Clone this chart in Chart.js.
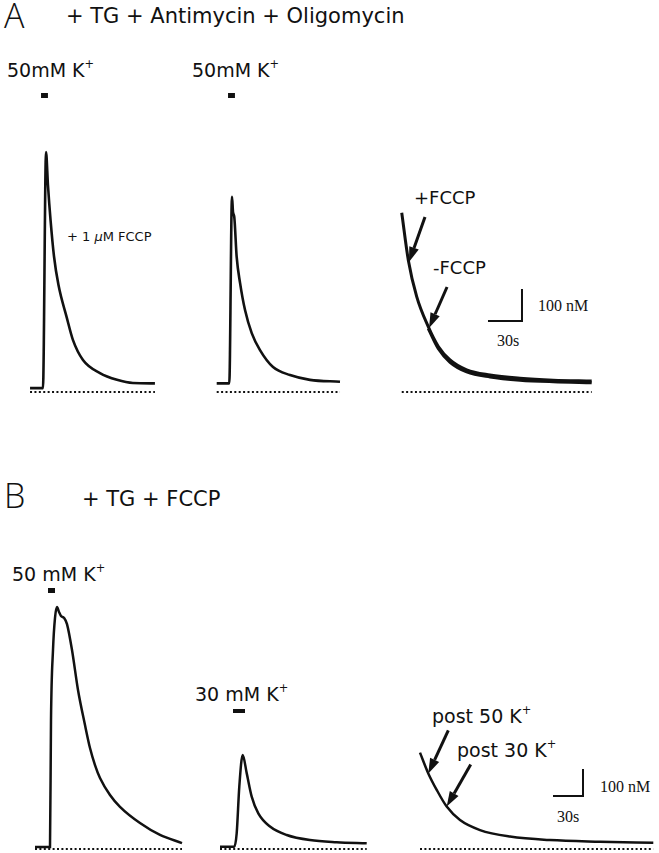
<!DOCTYPE html>
<html>
<head>
<meta charset="utf-8">
<script src="https://cdn.jsdelivr.net/npm/chart.js@4.4.0/dist/chart.umd.min.js"></script>
<style>
    html, body { margin: 0; padding: 0; background: #fff; }
    body { width: 659px; height: 853px; position: relative; overflow: hidden;
           font-family: "DejaVu Sans", sans-serif; color: #111; }
    .lbl { position: absolute; white-space: nowrap; line-height: 1; }
    .serif { font-family: "Liberation Serif", serif; }
    .big { font-family: "Open Sans", "DejaVu Sans", sans-serif; font-weight: 300; }
    canvas { position: absolute; }
    sup { font-size: 0.6em; vertical-align: 0.75em; line-height: 0; }
</style>
</head>
<body>
<div class="lbl big" style="left:4px;top:-2px;font-size:34px;">A</div>
<div class="lbl" style="left:66px;top:6px;font-size:21px;">+ TG + Antimycin + Oligomycin</div>
<div class="lbl" style="left:7px;top:61px;font-size:19px;">50mM K<sup>+</sup></div>
<div class="lbl" style="left:192px;top:61px;font-size:19px;">50mM K<sup>+</sup></div>
<div class="lbl" style="left:67px;top:230px;font-size:13px;">+ 1 <i>μ</i>M FCCP</div>
<div class="lbl" style="left:414px;top:189px;font-size:18px;">+FCCP</div>
<div class="lbl" style="left:433px;top:259px;font-size:18px;">-FCCP</div>
<div class="lbl serif" style="left:538px;top:298px;font-size:16px;">100 nM</div>
<div class="lbl serif" style="left:497px;top:333px;font-size:16px;">30s</div>

<div class="lbl big" style="left:4px;top:478px;font-size:34px;">B</div>
<div class="lbl" style="left:82px;top:489px;font-size:21px;">+ TG + FCCP</div>
<div class="lbl" style="left:12px;top:565px;font-size:19px;">50 mM K<sup>+</sup></div>
<div class="lbl" style="left:195px;top:685px;font-size:19px;">30 mM K<sup>+</sup></div>
<div class="lbl" style="left:432px;top:707px;font-size:19px;">post 50 K<sup>+</sup></div>
<div class="lbl" style="left:457px;top:741px;font-size:19px;">post 30 K<sup>+</sup></div>
<div class="lbl serif" style="left:600px;top:779px;font-size:16px;">100 nM</div>
<div class="lbl serif" style="left:557px;top:809px;font-size:16px;">30s</div>

<canvas id="a1"></canvas>
<canvas id="a2"></canvas>
<canvas id="a3"></canvas>
<canvas id="b1"></canvas>
<canvas id="b2"></canvas>
<canvas id="b3"></canvas>

<script>
// [Ca2+] traces: time in s from the start of each recording, [Ca2+] in nM above the dotted zero line

// A: + TG + Antimycin + Oligomycin
const a1Time = [1.8, 13.2, 15.9, 17.6, 19.9, 22.9, 26.9, 34.1, 39.7, 48.5, 63.5, 78.5, 92.6, 112];
const a1Ca   = [12, 12, 750, 647, 537, 425, 334, 234, 162, 100, 59, 38, 28, 27];
const a1Stim = [11.5, 17.6];

const a2Time = [1.5, 12.6, 15.0, 15.9, 17.0, 19.1, 22.1, 26.5, 32.4, 39.7, 51.2, 66.2, 83.8, 110.3];
const a2Ca   = [27, 27, 610, 562, 547, 423, 341, 256, 184, 131, 78, 53, 38, 32];
const a2Stim = [11.5, 17.6];

// with FCCP, then the trace after FCCP was washed out
const a3Time     = [3.3, 9.1, 16.5, 26.7, 35.6, 45.9, 60.6, 81.2, 107.6, 137.0, 170.9];
const a3Ca       = [560, 412, 298, 204, 142, 100, 69, 53, 43, 37, 34];
const a3WashTime = [26.7, 35.6, 45.9, 60.6, 81.2, 107.6, 137.0, 170.9];
const a3WashCa   = [198, 135, 93, 63, 47, 37, 32, 29];

// B: + TG + FCCP
const b1Time = [2, 17, 18, 20, 22, 24, 26, 28, 31, 34, 39, 45, 52, 57, 62, 67, 77, 87, 107, 127, 149];
const b1Ca   = [7, 7, 478, 737, 856, 896, 878, 863, 856, 833, 737, 589, 459, 374, 311, 263, 200, 156, 96, 52, 22];
const b1Stim = [15, 22];

const b2Time = [2, 16.3, 18.7, 21.3, 24.7, 28.7, 33.7, 40.3, 52, 68.7, 92, 118.7, 148.7];
const b2Ca   = [8, 8, 59, 231, 348, 281, 194, 132, 83, 52, 33, 25, 21];
const b2Stim = [15, 27];

const b3Time = [3, 11.3, 19.7, 29.7, 43, 63, 93, 133, 183, 236.3];
const b3Ca   = [357, 280, 219, 157, 107, 70, 46, 33, 27, 23];

const INK = '#111';

// page layout of the two rows (px)
const rowA = { pxPerSec: 34 / 30, pxPerNM: 32 / 100, zeroY: 392, top: 88, bottom: 410 };
const rowB = { pxPerSec: 30 / 30, pxPerNM: 27 / 100, zeroY: 849, top: 580, bottom: 860 };

function toPoints(times, values) {
    return times.map((t, i) => ({ x: t, y: values[i] }));
}

function traceSet(times, values, width) {
    return {
        data: toPoints(times, values),
        borderColor: INK,
        borderWidth: width,
        cubicInterpolationMode: 'monotone',
        pointRadius: 0
    };
}

function zeroSet(times) {
    return {
        data: [{ x: times[0], y: 0 }, { x: times[times.length - 1], y: 0 }],
        borderColor: INK,
        borderWidth: 2,
        borderDash: [2, 2.4],
        pointRadius: 0
    };
}

const marksPlugin = {
    id: 'marks',
    afterDatasetsDraw(chart, args, opts) {
        const { ctx } = chart;
        const x = chart.scales.x, y = chart.scales.y;
        ctx.save();
        ctx.fillStyle = INK;
        ctx.strokeStyle = INK;

        (opts.stim || []).forEach((s) => {
            const x0 = x.getPixelForValue(s.from);
            const x1 = x.getPixelForValue(s.to);
            ctx.fillRect(x0, s.top, x1 - x0, s.h);
        });

        if (opts.scaleBar) {
            const b = opts.scaleBar;
            const cx = x.getPixelForValue(b.t), cy = y.getPixelForValue(b.ca);
            const lx = x.getPixelForValue(b.t - 30), ty = y.getPixelForValue(b.ca + 100);
            ctx.lineWidth = 2;
            ctx.beginPath();
            ctx.moveTo(lx, cy);
            ctx.lineTo(cx, cy);
            ctx.lineTo(cx, ty);
            ctx.stroke();
        }

        (opts.arrows || []).forEach((a) => {
            const tx = x.getPixelForValue(a.t), ty = y.getPixelForValue(a.ca);
            const sx = tx + a.dx, sy = ty + a.dy;
            const ang = Math.atan2(ty - sy, tx - sx);
            const head = 15, half = 5;
            const bx = tx - head * Math.cos(ang), by = ty - head * Math.sin(ang);
            ctx.lineWidth = 3;
            ctx.beginPath();
            ctx.moveTo(sx, sy);
            ctx.lineTo(bx, by);
            ctx.stroke();
            ctx.beginPath();
            ctx.moveTo(tx, ty);
            ctx.lineTo(bx + half * Math.sin(ang), by - half * Math.cos(ang));
            ctx.lineTo(bx - half * Math.sin(ang), by + half * Math.cos(ang));
            ctx.closePath();
            ctx.fill();
        });
        ctx.restore();
    }
};

function drawTrace(id, row, left, width, datasets, marks) {
    const canvas = document.getElementById(id);
    const height = row.bottom - row.top;
    canvas.width = width;
    canvas.height = height;
    canvas.style.left = left + 'px';
    canvas.style.top = row.top + 'px';
    canvas.style.width = width + 'px';
    canvas.style.height = height + 'px';

    // stimulus bars are given in page y; make them canvas relative
    (marks.stim || []).forEach((s) => { s.top -= row.top; });

    return new Chart(canvas, {
        type: 'line',
        data: { datasets: datasets },
        options: {
            responsive: false,
            animation: false,
            events: [],
            layout: { padding: 0 },
            plugins: {
                legend: { display: false },
                tooltip: { enabled: false },
                marks: marks
            },
            scales: {
                x: { type: 'linear', display: false, min: 0, max: width / row.pxPerSec },
                y: {
                    type: 'linear', display: false,
                    min: -(row.bottom - row.zeroY) / row.pxPerNM,
                    max: (row.zeroY - row.top) / row.pxPerNM
                }
            }
        },
        plugins: [marksPlugin]
    });
}

drawTrace('a1', rowA, 28, 140, [zeroSet(a1Time), traceSet(a1Time, a1Ca, 2.6)], {
    stim: [{ from: a1Stim[0], to: a1Stim[1], top: 93, h: 5 }]
});

drawTrace('a2', rowA, 215, 140, [zeroSet(a2Time), traceSet(a2Time, a2Ca, 2.6)], {
    stim: [{ from: a2Stim[0], to: a2Stim[1], top: 93, h: 5 }]
});

drawTrace('a3', rowA, 398, 210, [
    zeroSet(a3Time),
    traceSet(a3Time, a3Ca, 3),
    traceSet(a3WashTime, a3WashCa, 3)
], {
    scaleBar: { t: 109.4, ca: 222 },
    arrows: [
        { t: 9.7, ca: 406, dx: 16, dy: -45 },
        { t: 27.4, ca: 200, dx: 18, dy: -41 }
    ]
});

drawTrace('b1', rowB, 33, 160, [zeroSet(b1Time), traceSet(b1Time, b1Ca, 2.5)], {
    stim: [{ from: b1Stim[0], to: b1Stim[1], top: 588, h: 5 }]
});

drawTrace('b2', rowB, 218, 160, [zeroSet(b2Time), traceSet(b2Time, b2Ca, 2.5)], {
    stim: [{ from: b2Stim[0], to: b2Stim[1], top: 709, h: 4 }]
});

drawTrace('b3', rowB, 417, 242, [zeroSet(b3Time), traceSet(b3Time, b3Ca, 2.5)], {
    scaleBar: { t: 166, ca: 196 },
    arrows: [
        { t: 11.3, ca: 280, dx: 20, dy: -43 },
        { t: 29.7, ca: 157, dx: 24, dy: -42 }
    ]
});
</script>
</body>
</html>
